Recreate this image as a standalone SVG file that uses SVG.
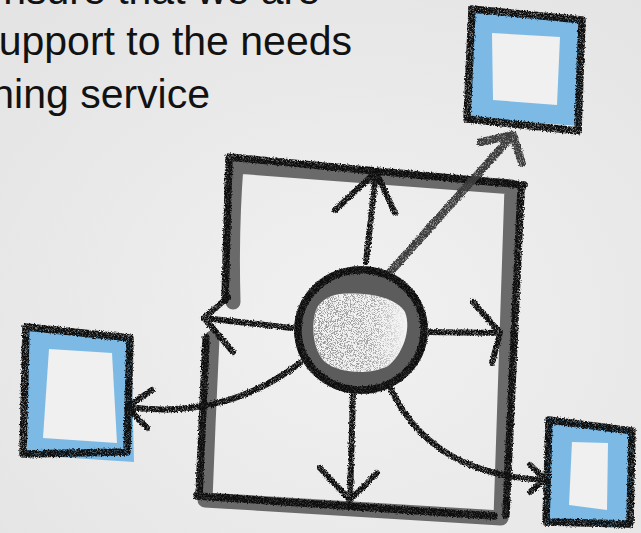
<svg xmlns="http://www.w3.org/2000/svg" width="641" height="533" viewBox="0 0 641 533">
  <defs>
    <radialGradient id="paper" cx="0.55" cy="0.6" r="0.75">
      <stop offset="0" stop-color="#f1f1f1"/>
      <stop offset="1" stop-color="#e4e4e4"/>
    </radialGradient>
    <filter id="crayon" filterUnits="userSpaceOnUse" x="0" y="0" width="641" height="533">
      <feTurbulence type="fractalNoise" baseFrequency="0.7" numOctaves="2" seed="2" result="noise"/>
      <feDisplacementMap in="SourceGraphic" in2="noise" scale="3.5" xChannelSelector="R" yChannelSelector="G" result="d"/>
      <feTurbulence type="fractalNoise" baseFrequency="1.6" numOctaves="1" seed="7" result="grain"/>
      <feColorMatrix in="grain" type="matrix" values="0 0 0 0 0  0 0 0 0 0  0 0 0 0 0  0 0 0 -2.0 1.95" result="gmask"/>
      <feComposite in="d" in2="gmask" operator="in"/>
    </filter>
    <filter id="speck" filterUnits="userSpaceOnUse" x="0" y="0" width="641" height="533">
      <feTurbulence type="fractalNoise" baseFrequency="1.3" numOctaves="2" seed="5" result="n"/>
      <feColorMatrix in="n" type="matrix" values="0 0 0 0 0.3  0 0 0 0 0.3  0 0 0 0 0.3  0 0 0 -7 3.7" result="dots"/>
      <feComposite in="dots" in2="SourceGraphic" operator="in"/>
    </filter>
    <linearGradient id="speckFade" x1="0" y1="0" x2="1" y2="0">
      <stop offset="0" stop-color="#000" stop-opacity="1"/>
      <stop offset="0.65" stop-color="#000" stop-opacity="0.8"/>
      <stop offset="1" stop-color="#000" stop-opacity="0"/>
    </linearGradient>
    <style>
      .txt { font-family: "Liberation Sans", Arial, sans-serif; font-size: 41px; fill: #121212; }
      .band { fill: none; stroke: #6a6a6a; stroke-width: 15; stroke-linejoin: round; stroke-linecap: round; }
      .ink { fill: none; stroke: #0d0d0d; stroke-width: 7.5; stroke-linecap: round; stroke-linejoin: round; filter: url(#crayon); }
      .blue { fill: #7cbae5; }
      .hole { fill: #f0f0f0; }
      .arrow { fill: none; stroke: #0d0d0d; stroke-width: 6; stroke-linecap: round; stroke-linejoin: round; }
      .grey-arrow { fill: none; stroke: #3a3a3a; stroke-width: 8; stroke-linecap: round; stroke-linejoin: round; }
    </style>
  </defs>

  <rect x="0" y="0" width="641" height="533" fill="url(#paper)"/>

  <g id="caption">
    <text class="txt" x="320" y="4" text-anchor="end">nsure that we are</text>
    <text class="txt" x="352" y="55" text-anchor="end">upport to the needs</text>
    <text class="txt" x="210" y="108" text-anchor="end">ning service</text>
  </g>

  <g id="frame">
    <path class="band" d="M 233,302 Q 231,230 236,166 L 512,187 Q 507,350 501,518 L 205,500 Q 208,420 212,338"/>
    <path class="ink" d="M 225,300 L 229,157 L 524,185 M 521,190 L 506,515 M 197,496 L 494,516 M 206,338 L 199,496"/>
  </g>

  <g id="box-top">
    <polygon class="blue" points="474,12 580,21 580,126 470,118"/>
    <polygon class="hole" points="492,33 560,37 557,105 493,100"/>
    <path class="ink" d="M 472,9 L 582,20 L 578,131 L 467,119 Z"/>
  </g>

  <g id="box-left">
    <polygon class="blue" points="28,329 131,339 134,462 26,455"/>
    <polygon class="hole" points="49,349 112,353 117,443 43,438"/>
    <path class="ink" d="M 26,327 L 130,338 L 127,452 L 23,454 Z"/>
  </g>

  <g id="box-bottom">
    <polygon class="blue" points="548,418 633,430 630,528 545,523"/>
    <polygon class="hole" points="572,442 608,443 607,510 569,505"/>
    <path class="ink" d="M 549,420 L 632,431 L 630,524 L 546,522 Z"/>
  </g>

  <g id="connectors" filter="url(#crayon)">
    <path class="grey-arrow" d="M 383,280 L 513,135 M 481,142 L 513,135 L 522,163"/>
    <path class="arrow" d="M 366,262 L 376,172 M 335,210 L 376,172 L 395,213"/>
    <path class="arrow" d="M 292,328 L 204,318 M 228,297 L 204,318 L 233,352"/>
    <path class="arrow" d="M 423,332 L 500,333 M 473,302 L 500,333 L 492,363"/>
    <path class="arrow" d="M 353,393 L 350,500 M 320,468 L 350,500 L 377,473"/>
    <path class="arrow" d="M 300,363 Q 225,420 127,407 M 152,390 L 127,407 L 147,428"/>
    <path class="arrow" d="M 390,387 Q 430,475 545,480 M 530,465 L 545,479 L 530,492"/>
  </g>

  <g id="hub">
    <ellipse cx="361" cy="330" rx="67" ry="64" fill="#5c5c5c"/>
    <ellipse cx="361" cy="330" rx="63" ry="60" class="ink" stroke-width="7"/>
    <path d="M 340,294 C 365,292 395,296 405,312 C 412,330 402,355 388,366 C 370,375 340,374 325,362 C 312,350 310,320 318,306 C 324,298 332,295 340,294 Z" fill="#f3f3f3"/>
    <path d="M 340,294 C 365,292 395,296 405,312 C 412,330 402,355 388,366 C 370,375 340,374 325,362 C 312,350 310,320 318,306 C 324,298 332,295 340,294 Z" fill="url(#speckFade)" filter="url(#speck)"/>
  </g>
</svg>
